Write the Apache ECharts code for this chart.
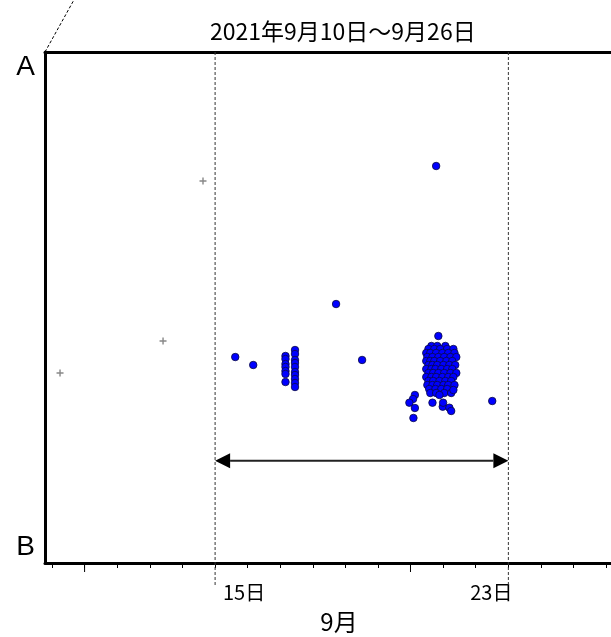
<!DOCTYPE html>
<html>
<head>
<meta charset="utf-8">
<script src="https://cdn.jsdelivr.net/npm/echarts@6/dist/echarts.min.js"></script>
<style>
  html, body { margin: 0; padding: 0; background: #fff; overflow: hidden; }
  #chart { width: 611px; height: 637px; }
</style>
</head>
<body>
<div id="chart"></div>
<script>
// axis range (x in days of September, y from B=0 to A=100)
var xMin = 10.36, xMax = 27;
var yMin = 0, yMax = 100;

var tickDays = [10.56, 11.44, 12.33, 13.22, 14.11, 15, 15.89, 16.78, 17.67, 18.56,
                19.44, 20.33, 21.22, 22.11, 23, 23.89, 24.78, 25.67];
var longTickDays = [11.44, 20.33];
var labelDays = [15, 23];
var guideDays = [15, 23];
var arrowSpan = [[15, 23, 20]];
var yLabelValues = [3, 97];
var yLabelText = { 3: 'B', 97: 'A' };

// gray "+" marks
var crossPoints = [[10.77, 37.18], [13.58, 43.44], [14.67, 74.76]];

// blue points, loose ones and the two columns near the 17th
var loosePoints = [
  [15.55, 40.31], [16.04, 38.75], [18.30, 50.68], [19.01, 39.73], [21.03, 77.69], [22.56, 31.70],
  [16.92, 40.51], [16.92, 39.92], [16.92, 38.94], [16.92, 38.36], [16.92, 37.57], [16.92, 36.99], [16.92, 35.42],
  [17.18, 41.68], [17.18, 40.90], [17.18, 39.73], [17.18, 39.14], [17.18, 38.36], [17.18, 37.38],
  [17.18, 36.79], [17.18, 36.01], [17.18, 35.23], [17.18, 34.44]
];

// dense group around the 21st
var clusterPoints = [
  [21.09, 44.42],
  [20.90, 42.47], [21.06, 42.47], [21.28, 42.47],
  [20.82, 41.88], [20.98, 41.88], [21.14, 41.88], [21.33, 41.88], [21.50, 41.88],
  [20.76, 41.10], [20.87, 41.10], [21.03, 41.10], [21.20, 41.10], [21.36, 41.10], [21.53, 41.10],
  [20.79, 40.31], [20.93, 40.31], [21.09, 40.31], [21.25, 40.31], [21.42, 40.31], [21.58, 40.31],
  [20.76, 39.53], [20.87, 39.53], [20.98, 39.53], [21.14, 39.53], [21.31, 39.53], [21.47, 39.53],
  [20.82, 38.75], [20.93, 38.75], [21.06, 38.75], [21.23, 38.75], [21.39, 38.75], [21.55, 38.75],
  [20.76, 37.96], [20.90, 37.96], [21.01, 37.96], [21.17, 37.96], [21.33, 37.96], [21.47, 37.96],
  [20.82, 37.18], [20.95, 37.18], [21.09, 37.18], [21.25, 37.18], [21.42, 37.18], [21.58, 37.18],
  [20.76, 36.40], [20.90, 36.40], [21.03, 36.40], [21.20, 36.40], [21.36, 36.40], [21.50, 36.40],
  [20.82, 35.62], [20.95, 35.62], [21.12, 35.62], [21.28, 35.62], [21.44, 35.62],
  [20.79, 34.83], [20.93, 34.83], [21.06, 34.83], [21.23, 34.83], [21.36, 34.83], [21.53, 34.83],
  [20.84, 34.05], [21.01, 34.05], [21.17, 34.05], [21.33, 34.05],
  [20.87, 33.27], [21.03, 33.27], [21.25, 33.27], [21.44, 33.27],
  [21.12, 32.88], [21.50, 33.86],
  [20.45, 32.88], [20.40, 32.09], [20.30, 31.37], [20.45, 30.33], [20.41, 28.38],
  [20.93, 31.37], [21.21, 30.59], [21.22, 31.37], [21.39, 30.39], [21.44, 29.75]
];

var cjk = '"Noto Sans CJK JP", sans-serif';

var myChart = echarts.init(document.getElementById('chart'));
var option = {
  animation: false,
  title: {
    text: '2021年9月10日～9月26日',
    left: 205,
    top: 15,
    textStyle: { fontFamily: cjk, fontSize: 23, fontWeight: 'normal', color: '#000' }
  },
  grid: {
    left: 45, top: 52, width: 610, height: 511,
    outerBoundsMode: 'none', containLabel: false
  },
  xAxis: [
    {
      type: 'value', min: xMin, max: xMax,
      name: '9月', nameLocation: 'middle', nameGap: 47,
      nameTextStyle: { fontFamily: cjk, fontSize: 24, color: '#000', padding: [0, 22, 0, 0] },
      splitLine: { show: false },
      axisLine: { lineStyle: { color: '#000', width: 3 } },
      axisTick: { customValues: tickDays, length: 5, lineStyle: { color: '#000', width: 1 } },
      axisLabel: {
        customValues: labelDays, margin: 19, color: '#000',
        formatter: function (v) { return v === 15 ? '{r|15日}' : '{l|23日}'; },
        rich: {
          r: { fontFamily: cjk, fontSize: 20, color: '#000', padding: [0, 0, 0, 58] },
          l: { fontFamily: cjk, fontSize: 20, color: '#000', padding: [0, 34, 0, 0] }
        }
      }
    },
    {
      // top frame line only
      type: 'value', position: 'top', min: xMin, max: xMax,
      splitLine: { show: false },
      axisLine: { show: true, onZero: false, lineStyle: { color: '#000', width: 3 } },
      axisTick: { show: false },
      axisLabel: { show: false }
    }
  ],
  yAxis: {
    type: 'value', min: yMin, max: yMax,
    splitLine: { show: false },
    axisLine: { show: true, lineStyle: { color: '#000', width: 3 } },
    axisTick: { show: false },
    axisLabel: {
      customValues: yLabelValues, margin: 10,
      fontFamily: '"Liberation Sans", sans-serif', fontSize: 28, color: '#000',
      formatter: function (v) { return yLabelText[v]; }
    }
  },
  series: [
    {
      // dashed guides for the 15th and 23rd, running past the axis
      type: 'custom', clip: false, silent: true, z: 1,
      data: guideDays.map(function (d) { return [d, 0]; }),
      renderItem: function (params, api) {
        var top = api.coord([api.value(0), yMax]);
        var bot = api.coord([api.value(0), yMin]);
        return {
          type: 'line',
          shape: { x1: top[0], y1: top[1], x2: bot[0], y2: bot[1] + 24 },
          style: { stroke: '#333', lineWidth: 1, lineDash: [3, 2] }
        };
      }
    },
    {
      type: 'custom', clip: false, silent: true,
      data: longTickDays.map(function (d) { return [d, 0]; }),
      renderItem: function (params, api) {
        var p = api.coord([api.value(0), yMin]);
        return {
          type: 'line',
          shape: { x1: p[0], y1: p[1], x2: p[0], y2: p[1] + 9 },
          style: { stroke: '#000', lineWidth: 1 }
        };
      }
    },
    {
      // diagonal dashed line leaving the top-left corner
      type: 'custom', clip: false, silent: true,
      data: [[xMin, yMax]],
      renderItem: function (params, api) {
        var p = api.coord([api.value(0), api.value(1)]);
        return {
          type: 'line',
          shape: { x1: p[0], y1: p[1], x2: p[0] + 30, y2: p[1] - 54 },
          style: { stroke: '#000', lineWidth: 1, lineDash: [3, 2] }
        };
      }
    },
    {
      // double-headed arrow between the guides
      type: 'custom', clip: false, silent: true,
      data: arrowSpan,
      renderItem: function (params, api) {
        var a = api.coord([api.value(0), api.value(2)]);
        var b = api.coord([api.value(1), api.value(2)]);
        var h = 15, w = 7.5;
        return {
          type: 'group',
          children: [
            { type: 'line', shape: { x1: a[0] + h, y1: a[1], x2: b[0] - h, y2: b[1] },
              style: { stroke: '#222', lineWidth: 2 } },
            { type: 'polygon', shape: { points: [[a[0], a[1]], [a[0] + h, a[1] - w], [a[0] + h, a[1] + w]] },
              style: { fill: '#000' } },
            { type: 'polygon', shape: { points: [[b[0], b[1]], [b[0] - h, b[1] - w], [b[0] - h, b[1] + w]] },
              style: { fill: '#000' } }
          ]
        };
      }
    },
    {
      type: 'scatter', silent: true,
      symbol: 'path://M4,0h2v4h4v2h-4v4h-2v-4h-4v-2h4z', symbolSize: 7,
      itemStyle: { color: '#888', opacity: 1 },
      data: crossPoints
    },
    {
      type: 'scatter', silent: true, symbolSize: 7.5,
      itemStyle: { color: '#0000ff', borderColor: '#0a0a40', borderWidth: 0.8, opacity: 1 },
      data: loosePoints.concat(clusterPoints)
    }
  ]
};
myChart.setOption(option);
</script>
</body>
</html>
